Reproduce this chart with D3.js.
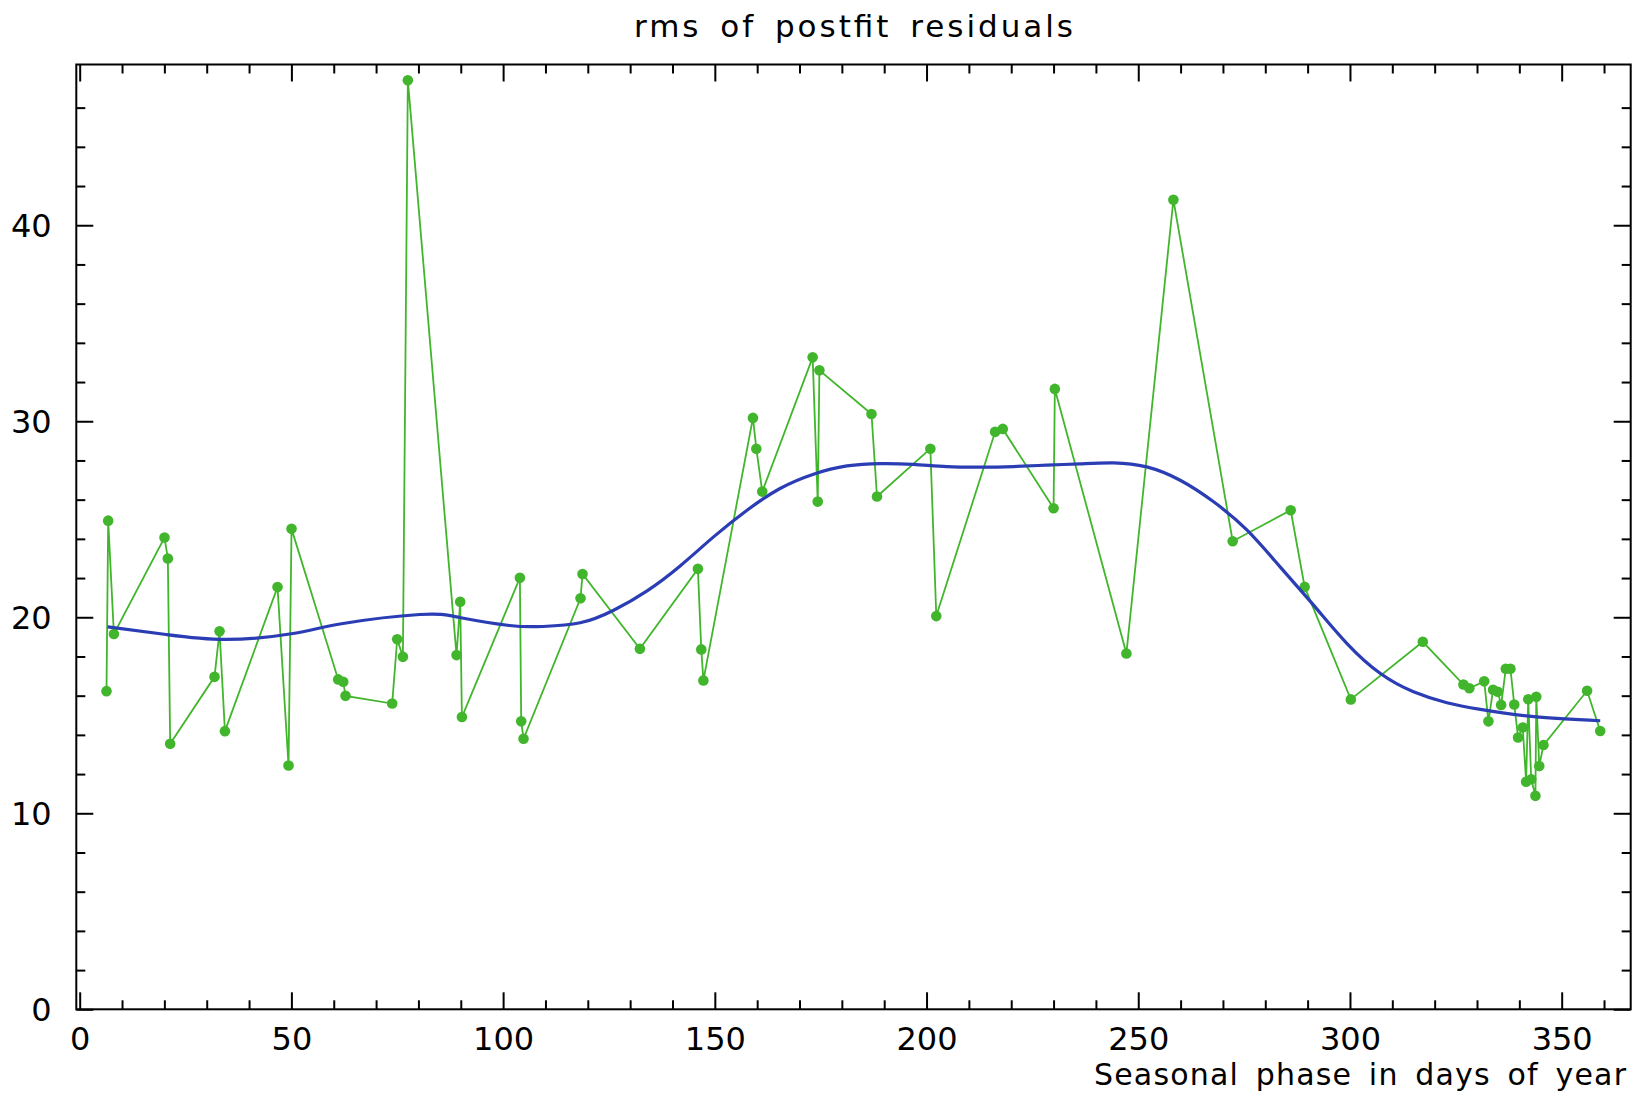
<!DOCTYPE html>
<html>
<head>
<meta charset="utf-8">
<script src="https://cdn.jsdelivr.net/npm/d3@7"></script>
<style>
  html, body { margin: 0; padding: 0; background: #fff; }
  svg { display: block; }
  text { font-family: "DejaVu Sans", sans-serif; fill: #000; }
</style>
</head>
<body>
<div id="chart"></div>
<script>
// ---- data ----
const titleText = "rms of postfit residuals";
const xLabelText = "Seasonal phase in days of year";

const xMajorTicks = [0, 50, 100, 150, 200, 250, 300, 350];
const yMajorTicks = [0, 10, 20, 30, 40];

const days = [6.33, 6.73, 8.08, 20.03, 20.82, 21.37, 31.84, 33.03, 34.3, 46.72,
  49.32, 50.03, 61.05, 62.24, 62.78, 73.8, 74.99, 76.33, 77.5, 89.0,
  89.87, 90.27, 103.96, 104.27, 104.82, 118.28, 118.75, 132.3, 146.0, 146.8,
  147.3, 159.0, 159.8, 161.2, 173.1, 174.3, 174.7, 187.0, 188.3, 200.9,
  202.3, 216.2, 218.0, 230.0, 230.3, 247.2, 258.3, 272.3, 286.0, 289.3,
  300.2, 317.2, 326.8, 328.2, 331.7, 332.7, 333.8, 334.9, 335.7, 336.8,
  337.9, 338.8, 339.7, 340.8, 341.6, 342.1, 342.8, 343.8, 344.0, 344.7,
  345.7, 356.0, 359.1];
const rms = [16.23, 24.93, 19.15, 24.07, 23.0, 13.55, 16.96, 19.29, 14.19, 21.54,
  12.44, 24.51, 16.83, 16.71, 15.99, 15.6, 18.88, 17.98, 47.4, 18.07,
  20.79, 14.91, 22.01, 14.69, 13.8, 20.97, 22.21, 18.39, 22.47, 18.36,
  16.78, 30.17, 28.6, 26.41, 33.26, 25.9, 32.6, 30.37, 26.16, 28.6,
  20.06, 29.46, 29.61, 25.56, 31.65, 18.15, 41.3, 23.88, 25.46, 21.55,
  15.81, 18.75, 16.57, 16.38, 16.73, 14.69, 16.3, 16.2, 15.53, 17.37,
  17.37, 15.55, 13.87, 14.38, 11.61, 15.82, 11.74, 10.89, 15.94, 12.41,
  13.48, 16.25, 14.2];

// smooth fit curve
const fitDays = [6.6, 20.4, 34.6, 50.4, 62.2, 80.3, 89.7, 101.5, 109.4, 118.2,
  126.1, 134.0, 141.8, 149.7, 157.6, 165.4, 173.3, 181.2, 189.1, 196.9,
  204.8, 212.7, 220.5, 228.4, 236.3, 244.2, 252.0, 259.9, 267.8, 275.7,
  283.5, 291.4, 299.3, 307.2, 315.0, 322.9, 330.8, 343.4, 359.1];
const fitRms = [19.51, 19.12, 18.87, 19.17, 19.68, 20.14, 19.99, 19.58, 19.53, 19.72,
  20.36, 21.35, 22.62, 24.1, 25.46, 26.57, 27.3, 27.72, 27.84, 27.8,
  27.69, 27.66, 27.69, 27.76, 27.83, 27.88, 27.67, 26.99, 25.89, 24.44,
  22.57, 20.62, 18.66, 17.13, 16.2, 15.64, 15.3, 14.93, 14.72];

// ---- layout ----
const W = 1638, H = 1095;
const plotL = 76.3, plotR = 1630.7, plotT = 64.5, plotB = 1009.3;
const green = "#41b62c", blue = "#2b3db4";

const svg = d3.select("#chart").append("svg")
  .attr("width", W).attr("height", H);

const x = d3.scaleLinear().domain([-0.8, 366.3]).range([plotL, plotR]);
const y = d3.scaleLinear().domain([0, 48.2]).range([plotB, plotT]);

// data line + points
const pts = days.map((d, i) => [d, rms[i]]);
const fit = fitDays.map((d, i) => [d, fitRms[i]]);

svg.append("path")
  .datum(pts)
  .attr("fill", "none")
  .attr("stroke", green)
  .attr("stroke-width", 1.8)
  .attr("d", d3.line().x(d => x(d[0])).y(d => y(d[1])));

svg.append("g").selectAll("circle")
  .data(pts).join("circle")
  .attr("cx", d => x(d[0])).attr("cy", d => y(d[1]))
  .attr("r", 5.3).attr("fill", green);

svg.append("path")
  .datum(fit)
  .attr("fill", "none")
  .attr("stroke", blue)
  .attr("stroke-width", 3.2)
  .attr("d", d3.line().curve(d3.curveNatural).x(d => x(d[0])).y(d => y(d[1])));

// ---- axes ----
const xMinor = d3.range(0, 361, 10).filter(v => v % 50 !== 0);
const yMinor = d3.range(0, 48, 2).filter(v => v % 10 !== 0);

function styleAxis(g) {
  g.select(".domain").remove();
  g.selectAll(".tick line").attr("stroke", "#000").attr("stroke-width", 2);
  g.selectAll("text").attr("font-family", "DejaVu Sans, sans-serif").attr("font-size", 32).attr("fill", "#000");
  g.attr("font-family", null).attr("font-size", null);
}

// bottom
svg.append("g").attr("transform", `translate(0,${plotB})`)
  .call(d3.axisBottom(x).tickValues(xMajorTicks).tickSize(-17).tickPadding(18).tickFormat(d3.format("d")))
  .call(styleAxis);
svg.append("g").attr("transform", `translate(0,${plotB})`)
  .call(d3.axisBottom(x).tickValues(xMinor).tickSize(-9).tickFormat(""))
  .call(styleAxis);
// top
svg.append("g").attr("transform", `translate(0,${plotT})`)
  .call(d3.axisTop(x).tickValues(xMajorTicks).tickSize(-17).tickFormat(""))
  .call(styleAxis);
svg.append("g").attr("transform", `translate(0,${plotT})`)
  .call(d3.axisTop(x).tickValues(xMinor).tickSize(-9).tickFormat(""))
  .call(styleAxis);
// left
svg.append("g").attr("transform", `translate(${plotL},0)`)
  .call(d3.axisLeft(y).tickValues(yMajorTicks).tickSize(-17).tickPadding(24.6).tickFormat(d3.format("d")))
  .call(styleAxis)
  .call(g => g.selectAll("text").attr("dy", "0.36em"));
svg.append("g").attr("transform", `translate(${plotL},0)`)
  .call(d3.axisLeft(y).tickValues(yMinor).tickSize(-9).tickFormat(""))
  .call(styleAxis);
// right
svg.append("g").attr("transform", `translate(${plotR},0)`)
  .call(d3.axisRight(y).tickValues(yMajorTicks).tickSize(-17).tickFormat(""))
  .call(styleAxis);
svg.append("g").attr("transform", `translate(${plotR},0)`)
  .call(d3.axisRight(y).tickValues(yMinor).tickSize(-9).tickFormat(""))
  .call(styleAxis);

// frame
svg.append("rect")
  .attr("x", plotL).attr("y", plotT)
  .attr("width", plotR - plotL).attr("height", plotB - plotT)
  .attr("fill", "none").attr("stroke", "#000").attr("stroke-width", 2);

// title and axis label
svg.append("text")
  .attr("x", (plotL + plotR) / 2).attr("y", 37)
  .attr("text-anchor", "middle")
  .attr("font-size", 31)
  .style("word-spacing", "6px")
  .attr("textLength", 439).attr("lengthAdjust", "spacing")
  .text(titleText);

svg.append("text")
  .attr("x", 1626).attr("y", 1085)
  .attr("text-anchor", "end")
  .attr("font-size", 30)
  .style("word-spacing", "6px")
  .attr("textLength", 532).attr("lengthAdjust", "spacing")
  .text(xLabelText);
</script>
</body>
</html>
